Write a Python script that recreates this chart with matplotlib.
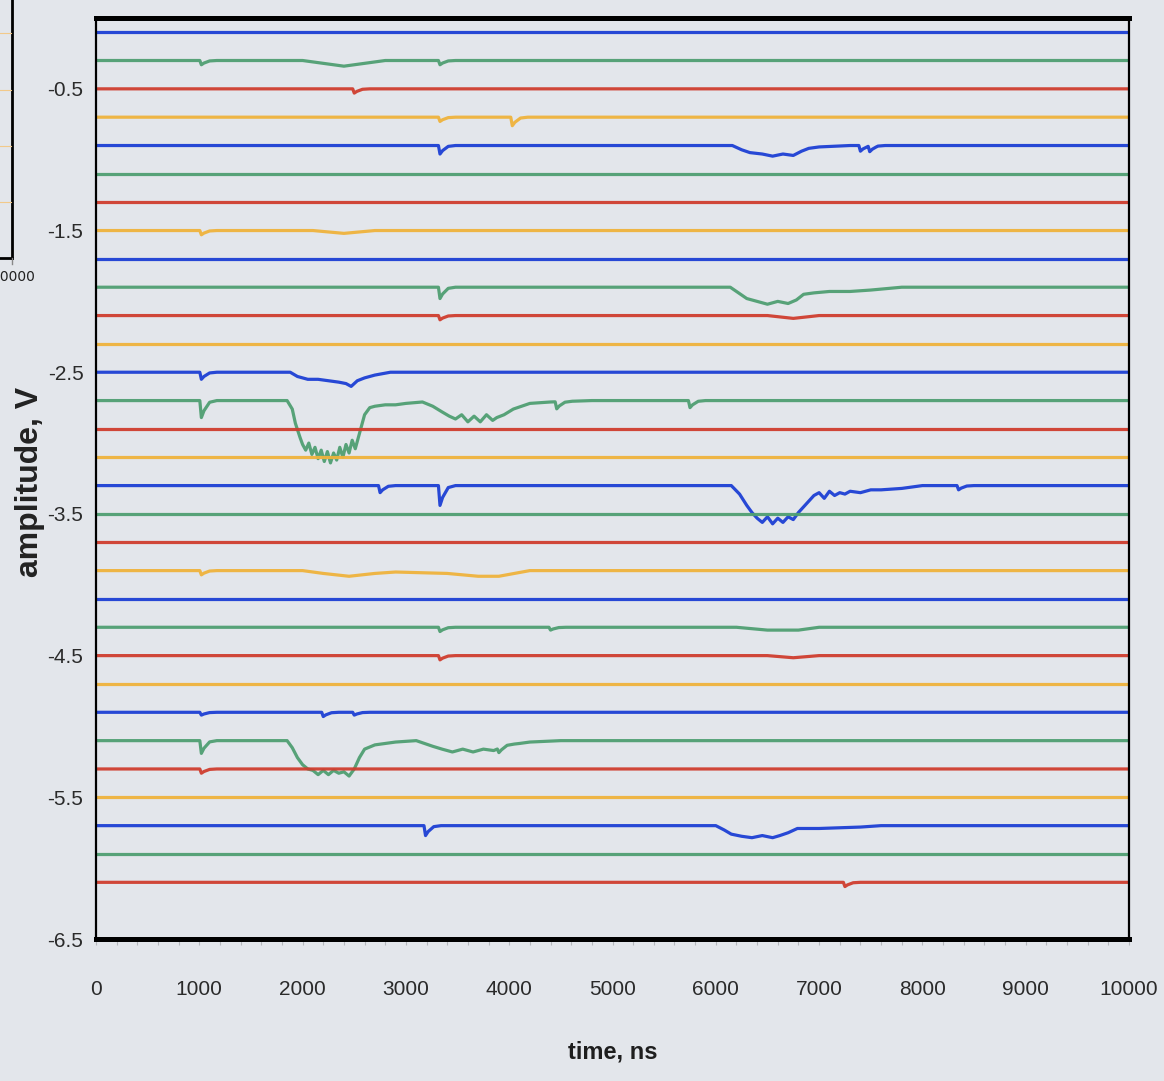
import numpy as np
import matplotlib.pyplot as plt
from matplotlib.lines import Line2D

# baselines of the 31 channels, top to bottom
baseline_v = [-0.1, -0.3, -0.5, -0.7, -0.9, -1.1, -1.3, -1.5, -1.7, -1.9,
              -2.1, -2.3, -2.5, -2.7, -2.9, -3.1, -3.3, -3.5, -3.7, -3.9,
              -4.1, -4.3, -4.5, -4.7, -4.9, -5.1, -5.3, -5.5, -5.7, -5.9, -6.1]
palette = ['#1d3fd4', '#4f9f72', '#cf3d2e', '#efb33c']

# slow signal dips: time (ns) and deviation from baseline (V)
dip1_t = [2000, 2200, 2400, 2600, 2800]
dip1_v = [0, -0.02, -0.04, -0.02, 0]
dip4_t = [6160, 6250, 6330, 6450, 6550, 6650, 6750, 6830, 6900, 7000, 7300]
dip4_v = [0, -0.03, -0.05, -0.06, -0.075, -0.06, -0.07, -0.04, -0.02, -0.01, 0]
dip7_t = [2100, 2400, 2700]
dip7_v = [0, -0.02, 0]
dip9_t = [6140, 6220, 6300, 6400, 6500, 6600, 6700, 6780, 6850, 6950, 7100, 7300, 7500, 7800]
dip9_v = [0, -0.04, -0.08, -0.10, -0.12, -0.10, -0.115, -0.09, -0.05, -0.04, -0.03, -0.03, -0.02, 0]
dip10_t = [6500, 6750, 7000]
dip10_v = [0, -0.02, 0]
dip12_t = [1880, 1950, 2050, 2150, 2250, 2350, 2420, 2470, 2530, 2600, 2700, 2850]
dip12_v = [0, -0.03, -0.05, -0.05, -0.06, -0.07, -0.08, -0.10, -0.06, -0.04, -0.02, 0]
dip13_t = [1850, 1900, 1930, 1975, 2000, 2030, 2060, 2090, 2120, 2150, 2180, 2210,
           2240, 2270, 2300, 2330, 2360, 2390, 2420, 2450, 2480, 2510, 2540, 2570,
           2600, 2650, 2700, 2800, 2900, 3000, 3160, 3260, 3350, 3420, 3480, 3540,
           3600, 3660, 3720, 3780, 3840, 3880, 3950, 4040, 4120, 4200, 4400, 4800]
dip13_v = [0, -0.06, -0.16, -0.26, -0.31, -0.35, -0.30, -0.38, -0.33, -0.41, -0.35, -0.43,
           -0.36, -0.44, -0.37, -0.42, -0.33, -0.40, -0.31, -0.37, -0.28, -0.34, -0.26, -0.18,
           -0.10, -0.05, -0.04, -0.03, -0.03, -0.02, -0.01, -0.04, -0.08, -0.11, -0.13, -0.10,
           -0.15, -0.11, -0.15, -0.10, -0.14, -0.12, -0.10, -0.06, -0.04, -0.02, -0.01, 0]
dip16_t = [6150, 6230, 6300, 6350, 6400, 6450, 6500, 6550, 6600, 6650, 6700, 6750,
           6800, 6850, 6900, 6950, 7000, 7050, 7100, 7150, 7200, 7250, 7300, 7400,
           7500, 7600, 7800, 8000]
dip16_v = [0, -0.06, -0.14, -0.19, -0.23, -0.26, -0.22, -0.27, -0.23, -0.26, -0.22, -0.24,
           -0.19, -0.15, -0.11, -0.07, -0.05, -0.09, -0.04, -0.07, -0.05, -0.06, -0.04, -0.05,
           -0.03, -0.03, -0.02, 0]
dip19_t = [2000, 2200, 2450, 2700, 2900, 3400, 3700, 3900, 4200]
dip19_v = [0, -0.02, -0.04, -0.02, -0.01, -0.02, -0.04, -0.04, 0]
dip21_t = [6200, 6500, 6800, 7000]
dip21_v = [0, -0.02, -0.02, 0]
dip22_t = [6500, 6750, 7000]
dip22_v = [0, -0.015, 0]
dip25_t = [1850, 1900, 1950, 2000, 2050, 2100, 2150, 2200, 2250, 2300, 2350, 2400,
           2450, 2500, 2550, 2600, 2700, 2900, 3100, 3260, 3350, 3450, 3550, 3650,
           3750, 3850, 3980, 4100, 4200, 4500]
dip25_v = [0, -0.05, -0.12, -0.17, -0.20, -0.21, -0.24, -0.21, -0.24, -0.21, -0.23, -0.22,
           -0.25, -0.20, -0.12, -0.06, -0.03, -0.01, 0, -0.04, -0.06, -0.08, -0.06, -0.08,
           -0.06, -0.07, -0.03, -0.02, -0.01, 0]
dip28_t = [6000, 6080, 6150, 6250, 6350, 6450, 6550, 6620, 6700, 6790, 7000, 7400, 7600]
dip28_v = [0, -0.03, -0.06, -0.075, -0.085, -0.07, -0.085, -0.07, -0.05, -0.02, -0.02, -0.01, 0]

dips = {1: (dip1_t, dip1_v), 4: (dip4_t, dip4_v), 7: (dip7_t, dip7_v),
        9: (dip9_t, dip9_v), 10: (dip10_t, dip10_v), 12: (dip12_t, dip12_v),
        13: (dip13_t, dip13_v), 16: (dip16_t, dip16_v), 19: (dip19_t, dip19_v),
        21: (dip21_t, dip21_v), 22: (dip22_t, dip22_v), 25: (dip25_t, dip25_v),
        28: (dip28_t, dip28_v)}

# fast negative spikes: channel, time (ns), depth (V)
spike_ch = [1, 1, 2, 3, 3, 4, 4, 4, 7, 9, 10, 12, 13, 13, 13, 16, 16, 16,
            19, 21, 21, 22, 24, 24, 24, 25, 25, 26, 28, 30]
spike_t = [1020, 3330, 2500, 3330, 4030, 3330, 7400, 7490, 1020, 3330, 3330, 1020,
           1020, 4460, 5750, 2750, 3330, 8350, 1020, 3330, 4400, 3330, 1020, 2200,
           2500, 1020, 3900, 1020, 3190, 7250]
spike_d = [0.03, 0.03, 0.03, 0.03, 0.06, 0.06, 0.04, 0.04, 0.03, 0.08, 0.03, 0.05,
           0.12, 0.05, 0.05, 0.05, 0.14, 0.03, 0.03, 0.03, 0.02, 0.03, 0.02, 0.03,
           0.02, 0.09, 0.03, 0.03, 0.07, 0.03]

bg = '#e3e6eb'
fig = plt.figure(figsize=(11.64, 10.81), dpi=100, facecolor=bg)
ax = fig.add_axes([96 / 1164, 1 - 939 / 1081, 1033 / 1164, 921 / 1081])
ax.set_facecolor(bg)

shape_dt = np.array([-15, 0, 25, 80, 150])
shape_k = np.array([0, 1, 0.6, 0.1, 0])

for i, base in enumerate(baseline_v):
    pts = [0, 10000]
    dt, dv = dips.get(i, ([0, 10000], [0, 0]))
    pts += list(dt)
    my_spikes = [(t, d) for c, t, d in zip(spike_ch, spike_t, spike_d) if c == i]
    for t, d in my_spikes:
        pts += list(t + shape_dt)
    t_all = np.unique(np.clip(pts, 0, 10000)).astype(float)
    v_all = np.interp(t_all, dt, dv, left=0, right=0)
    for t, d in my_spikes:
        v_all -= d * np.interp(t_all, t + shape_dt, shape_k, left=0, right=0)
    ax.plot(t_all, base + v_all, color=palette[i % 4], lw=2.3, alpha=0.95,
            solid_joinstyle='round')

ax.set_xlim(0, 10000)
ax.set_ylim(-6.5, 0)

sans = ['Liberation Sans', 'DejaVu Sans']
ax.set_xticks(np.arange(0, 10001, 1000))
ax.set_xticks(np.arange(0, 10001, 200), minor=True)
ax.set_xticklabels([str(v) for v in range(0, 10001, 1000)], family=sans,
                   fontsize=15, color='#2a2a2a')
ax.tick_params(axis='x', which='both', direction='out', color='#b5b8bd',
               length=4.5, width=0.8, pad=25)
yt = [-0.5, -1.5, -2.5, -3.5, -4.5, -5.5, -6.5]
ax.set_yticks(yt)
ax.set_yticklabels(['-%.1f' % abs(v) for v in yt], family=sans,
                   fontsize=15, color='#2a2a2a')
ax.tick_params(axis='y', length=0, pad=9)

for side in ['top', 'bottom']:
    ax.spines[side].set_linewidth(3.6)
for side in ['left', 'right']:
    ax.spines[side].set_linewidth(1.6)

ax.set_xlabel('time, ns', family=sans, fontsize=17, fontweight='bold',
              labelpad=30, color='#1e1e1e')
fig.text(30 / 1164, 1 - 482 / 1081, 'amplitude, V', rotation=90, ha='center',
         va='center', family=sans, fontsize=23, fontweight='bold', color='#222222')

# edge of the neighbouring panel on the left
fig.add_artist(Line2D([12 / 1164, 12 / 1164], [1, 1 - 258 / 1081], color='black', lw=2))
fig.add_artist(Line2D([0, 12 / 1164], [1 - 258 / 1081, 1 - 258 / 1081], color='black', lw=2))
fig.add_artist(Line2D([12 / 1164, 12 / 1164], [1 - 258 / 1081, 1 - 264 / 1081],
                      color='#888888', lw=1))
for yy in [33, 90, 146, 202]:
    fig.add_artist(Line2D([0, 11 / 1164], [1 - yy / 1081, 1 - yy / 1081],
                          color='#f2c98a', lw=0.8))
fig.text(35 / 1164, 1 - 277 / 1081, '10000', ha='right', va='center',
         fontsize=10, color='#222222')

fig.savefig('out.png', dpi=100, facecolor=bg)
